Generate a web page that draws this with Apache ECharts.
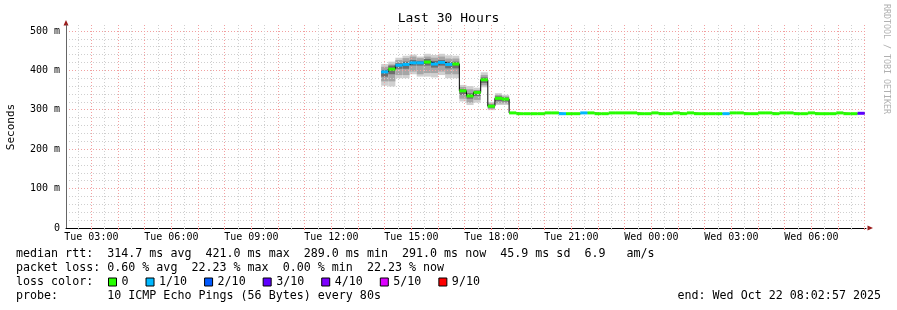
<!DOCTYPE html>
<html><head><meta charset="utf-8">
<script src="https://cdn.jsdelivr.net/npm/echarts@6/dist/echarts.min.js"></script>
<style>html,body{margin:0;padding:0;background:#fff}#c{width:897px;height:310px}</style>
</head><body><div id="c"></div>
<script>
// ---------- data ----------
const rangeStart = 'Tue 02:02:57';
const rangeEnd = 'Wed 08:02:57';
const stepTimes = ['Tue 13:52','Tue 14:08','Tue 14:24','Tue 14:40','Tue 14:56','Tue 15:12','Tue 15:28','Tue 15:44','Tue 16:00','Tue 16:16',
 'Tue 16:32','Tue 16:48','Tue 17:04','Tue 17:20','Tue 17:36','Tue 17:52','Tue 18:08','Tue 18:24','Tue 18:40','Tue 18:56',
 'Tue 19:12','Tue 19:28','Tue 19:44','Tue 20:00','Tue 20:16','Tue 20:32','Tue 20:48','Tue 21:04','Tue 21:20','Tue 21:36',
 'Tue 21:52','Tue 22:08','Tue 22:24','Tue 22:40','Tue 22:56','Tue 23:12','Tue 23:28','Tue 23:44','Wed 00:00','Wed 00:16',
 'Wed 00:32','Wed 00:48','Wed 01:04','Wed 01:20','Wed 01:36','Wed 01:52','Wed 02:08','Wed 02:24','Wed 02:40','Wed 02:56',
 'Wed 03:12','Wed 03:28','Wed 03:44','Wed 04:00','Wed 04:16','Wed 04:32','Wed 04:48','Wed 05:04','Wed 05:20','Wed 05:36',
 'Wed 05:52','Wed 06:08','Wed 06:24','Wed 06:40','Wed 06:56','Wed 07:12','Wed 07:28','Wed 07:44'];
const lastStepEnd = 'Wed 08:00';
// median rtt in ms per step
const medianMs = [396,403,413,415,419,419,421,416,420,415,416,
 348,335,344,376,309,329,327,
 292,290,290,290,290,292,292,290,290,290,292,292,290,290,292,292,292,292,290,290,292,290,
 290,292,290,292,290,290,290,290,290,292,292,290,290,292,292,290,292,292,290,290,
 292,290,290,290,292,290,290,291];
// lost pings (out of 10) per step
const lossTenths = [1,0,1,1,1,1,0,1,1,1,0,
 0,0,0,0,0,0,0,
 0,0,0,0,0,0,0,1,0,0,1,0,0,0,0,0,0,0,0,0,0,0,
 0,0,0,0,0,0,0,0,1,0,0,0,0,0,0,0,0,0,0,0,
 0,0,0,0,0,0,0,3];
// smoke (ping spread) for the first steps, ms
const smokeOuterLo = [361,359,380,380,390,384,384,382,388,380,380,321,312,318,357,299,312,312];
const smokeOuterHi = [416,422,432,437,440,435,442,439,442,438,437,363,360,356,395,320,342,338];
const smokeMidLo   = [372,372,388,388,397,390,393,393,397,390,390,328,318,325,362,302,316,316];
const smokeMidHi   = [409,415,426,431,435,431,435,432,435,430,430,358,352,350,388,316,338,334];
const smokeInnerLo = [384,390,404,404,412,412,412,407,412,405,405,338,328,335,368,305,322,321];
const smokeInnerHi = [401,412,418,422,426,424,429,424,426,422,422,352,342,348,382,313,334,331];

const lossNames  = ['0','1/10','2/10','3/10','4/10','5/10','9/10'];
const lossLevels = [0,1,2,3,4,5,9];
const lossColors = ['#26ff00','#00b8ff','#0059ff','#5e00ff','#7e00ff','#dd00ff','#ff0000'];

const xTickLabels = ['Tue 03:00','Tue 06:00','Tue 09:00','Tue 12:00','Tue 15:00','Tue 18:00','Tue 21:00','Wed 00:00','Wed 03:00','Wed 06:00'];
const yTickLabels = ['0','100 m','200 m','300 m','400 m','500 m'];
const yMaxMs = 515;

const statsLines = [
 'median rtt:  314.7 ms avg  421.0 ms max  289.0 ms min  291.0 ms now  45.9 ms sd  6.9   am/s',
 'packet loss: 0.60 % avg  22.23 % max  0.00 % min  22.23 % now'
];
const probeLine = 'probe:       10 ICMP Echo Pings (56 Bytes) every 80s';
const endLine = 'end: Wed Oct 22 08:02:57 2025';

// ---------- helpers ----------
function toHours(s){
  const parts = s.split(' ');
  const t = parts[1].split(':').map(Number);
  return (parts[0]==='Wed'?24:0) + t[0] + (t[1]||0)/60 + (t[2]||0)/3600;
}
const xMin = toHours(rangeStart), xMax = toHours(rangeEnd);
const starts = stepTimes.map(toHours);
const ends = starts.slice(1).concat([toHours(lastStepEnd)]);

const minorX = [], majorX = [];
for (let h = Math.ceil(xMin*2)/2; h <= xMax; h += 0.5) minorX.push(h);
for (let h = Math.ceil(xMin); h <= xMax; h += 1) majorX.push(h);
const labelX = xTickLabels.map(toHours);
const labelMap = {}; xTickLabels.forEach(function(l,i){ labelMap[labelX[i].toFixed(3)] = l; });

const yLabelVals = yTickLabels.map(function(l){ return parseFloat(l); });
const yLabelMap = {}; yTickLabels.forEach(function(l,i){ yLabelMap[yLabelVals[i]] = l; });
const minorY = [], majorY = [];
for (let v = 20; v <= 500; v += 20) minorY.push(v);
for (let v = 100; v <= 500; v += 100) majorY.push(v);

const smokeData = smokeOuterLo.map(function(_,i){
  return [starts[i], ends[i], smokeOuterLo[i], smokeOuterHi[i], smokeMidLo[i], smokeMidHi[i], smokeInnerLo[i], smokeInnerHi[i]];
});
const lineData = starts.map(function(t,i){ return [t, medianMs[i]]; });
lineData.push([ends[ends.length-1], medianMs[medianMs.length-1]]);

const MONO = 'DejaVu Sans Mono';

function renderSmoke(params, api){
  const t0 = api.value(0), t1 = api.value(1);
  const bands = [[2,3,'#d0d0d0'],[4,5,'#a6a6a6'],[6,7,'#6e6e6e']];
  const children = bands.map(function(b){
    const a = api.coord([t0, api.value(b[1])]);
    const c = api.coord([t1, api.value(b[0])]);
    return {type:'rect', shape:{x:a[0], y:a[1], width:c[0]-a[0], height:c[1]-a[1]}, style:{fill:b[2]}};
  });
  return {type:'group', children: children};
}
function renderMedian(params, api){
  const a = api.coord([api.value(0), api.value(2)]);
  const b = api.coord([api.value(1), api.value(2)]);
  return {type:'rect', shape:{x:a[0], y:a[1]-1.5, width:b[0]-a[0], height:3}, style:{fill: api.visual('color')}};
}

const series = [
  {type:'custom', name:'smoke', z:-1, renderItem: renderSmoke, data: smokeData, silent:true,
   encode:{x:[0,1], y:[2,3]}},
  {type:'line', name:'median', step:'end', data: lineData, symbol:'none', z:3, silent:true,
   lineStyle:{color:'#000', width:1}}
];
lossNames.forEach(function(name, k){
  const d = [];
  starts.forEach(function(t,i){ if (lossTenths[i] === lossLevels[k]) d.push([t, ends[i], medianMs[i]]); });
  series.push({type:'custom', name:name, z:4, renderItem: renderMedian, data:d, silent:true,
    itemStyle:{color: lossColors[k]}, encode:{x:[0,1], y:2}});
});

const chart = echarts.init(document.getElementById('c'), null, {renderer:'canvas'});
chart.setOption({
  animation:false,
  backgroundColor:'#ffffff',
  grid: {left:66, right:31, top:25, bottom:82, outerBoundsMode:'none', containLabel:false},
  xAxis: [
    {type:'value', position:'bottom', min:xMin, max:xMax,
     axisLine:{show:false}, axisLabel:{show:false},
     axisTick:{show:true, length:2, customValues:minorX, lineStyle:{color:'#c8c8c8'}},
     splitLine:{show:true, lineStyle:{color:'#cfcfcf', width:1, type:[1,2]}}},
    {type:'value', position:'bottom', min:xMin, max:xMax,
     axisLine:{show:false}, axisLabel:{show:false},
     axisTick:{show:true, length:2, customValues:majorX, lineStyle:{color:'#f08080'}},
     splitLine:{show:true, lineStyle:{color:'#f2a0a0', width:1, type:[1,2]}}},
    {type:'value', position:'bottom', min:xMin, max:xMax,
     axisLine:{show:true, lineStyle:{color:'#000', width:1}},
     axisTick:{show:false, customValues:labelX},
     splitLine:{show:false},
     axisLabel:{show:true, customValues:labelX, margin:4, color:'#000', fontFamily:MONO, fontSize:10,
       formatter:function(v){ return labelMap[v.toFixed(3)] || ''; }}}
  ],
  yAxis: [
    {type:'value', position:'left', min:0, max:yMaxMs, axisLine:{show:false}, axisLabel:{show:false},
     axisTick:{show:false, customValues:minorY},
     splitLine:{show:true, lineStyle:{color:'#cfcfcf', width:1, type:[1,2]}}},
    {type:'value', position:'left', min:0, max:yMaxMs, axisLine:{show:false}, axisLabel:{show:false},
     axisTick:{show:false, customValues:majorY},
     splitLine:{show:true, lineStyle:{color:'#f2a0a0', width:1, type:[1,2]}}},
    {type:'value', position:'left', min:0, max:yMaxMs,
     axisLine:{show:true, lineStyle:{color:'#666', width:1}},
     axisTick:{show:false, customValues:yLabelVals}, splitLine:{show:false},
     axisLabel:{show:true, customValues:yLabelVals, margin:6, color:'#000', fontFamily:MONO, fontSize:10,
       formatter:function(v){ return yLabelMap[v] !== undefined ? yLabelMap[v] : ''; }}}
  ],
  legend: {
    left:108, top:276, padding:0, itemGap:17, itemWidth:8, itemHeight:8, icon:'rect',
    selectedMode:false, data: lossNames,
    itemStyle:{borderColor:'#000', borderWidth:1},
    textStyle:{fontFamily:MONO, fontSize:11.66, color:'#000'}
  },
  series: series,
  graphic: [
    {type:'text', left:'center', top:12, style:{text:'Last 30 Hours', font:'13px "DejaVu Sans Mono"', fill:'#000'}},
    {type:'text', x:11, y:127, rotation:Math.PI/2, style:{text:'Seconds', font:'11px "DejaVu Sans Mono"', fill:'#000', align:'center', verticalAlign:'middle'}},
    {type:'text', x:886, y:59, rotation:-Math.PI/2, style:{text:'RRDTOOL / TOBI OETIKER', font:'8.3px "DejaVu Sans Mono"', fill:'#b0b0b0', align:'center', verticalAlign:'middle'}},
    {type:'text', x:16, y:254, style:{text:statsLines[0], font:'11.66px "DejaVu Sans Mono"', fill:'#000', verticalAlign:'middle'}},
    {type:'text', x:16, y:268, style:{text:statsLines[1], font:'11.66px "DejaVu Sans Mono"', fill:'#000', verticalAlign:'middle'}},
    {type:'text', x:16, y:282, style:{text:'loss color:', font:'11.66px "DejaVu Sans Mono"', fill:'#000', verticalAlign:'middle'}},
    {type:'text', x:16, y:296, style:{text:probeLine, font:'11.66px "DejaVu Sans Mono"', fill:'#000', verticalAlign:'middle'}},
    {type:'text', x:881, y:296, style:{text:endLine, font:'11.66px "DejaVu Sans Mono"', fill:'#000', align:'right', verticalAlign:'middle'}},
    {type:'polygon', shape:{points:[[66,20],[63.5,25.5],[68.5,25.5]]}, style:{fill:'#9b1c1c'}},
    {type:'polygon', shape:{points:[[873,228],[867.5,225.5],[867.5,230.5]]}, style:{fill:'#9b1c1c'}}
  ]
});
</script></body></html>
